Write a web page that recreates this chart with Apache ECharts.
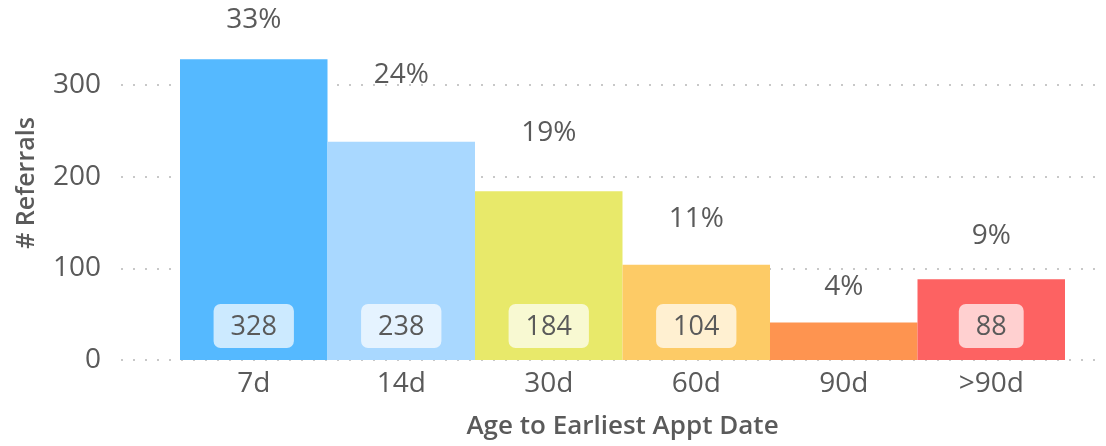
<!DOCTYPE html>
<html>
<head>
<meta charset="utf-8">
<script src="https://cdn.jsdelivr.net/npm/echarts@6/dist/echarts.min.js"></script>
<style>
html,body{margin:0;padding:0;background:#fff;}
#chart{width:1106px;height:446px;}
</style>
</head>
<body>
<div id="chart"></div>
<script>
// ---- data ----
const categories = ['7d', '14d', '30d', '60d', '90d', '>90d'];
const referrals = [328, 238, 184, 104, 41, 88];
const barColors = ['#55B9FF', '#A9D8FF', '#E8E96A', '#FDCB66', '#FE9450', '#FD6262'];
const yTicks = [0, 100, 200, 300];

const total = referrals.reduce((a, b) => a + b, 0);
const shares = referrals.map(v => v / total * 100);

const textColor = '#5A5A5A';
const font = '"Open Sans", "Noto Sans", sans-serif';

const chart = echarts.init(document.getElementById('chart'));

const barData = referrals.map((v, i) => ({
  value: v,
  itemStyle: { color: barColors[i] },
  label: { show: v >= 60 }
}));

chart.setOption({
  animation: false,
  backgroundColor: '#ffffff',
  grid: [
    { left: 121, right: 6, top: 85, bottom: 86 },
    { left: 180, right: 41, top: 85, bottom: 86 }
  ],
  xAxis: [
    { gridIndex: 0, type: 'value', show: false, min: 0, max: 1 },
    {
      gridIndex: 1, type: 'category', data: categories,
      axisLine: { show: false }, axisTick: { show: false },
      axisLabel: { color: textColor, fontSize: 28, fontFamily: font, margin: 10 },
      name: 'Age to Earliest Appt Date', nameLocation: 'middle', nameGap: 54,
      nameTextStyle: { color: textColor, fontSize: 26, fontFamily: font, fontWeight: 600 }
    }
  ],
  yAxis: [
    {
      gridIndex: 0, type: 'value', min: yTicks[0], max: yTicks[yTicks.length - 1], interval: 100,
      axisLine: { show: false }, axisTick: { show: false },
      axisLabel: { color: textColor, fontSize: 28, fontFamily: font, margin: 20 },
      splitLine: { show: true, lineStyle: { color: '#C8C8C8', width: 2, type: [2, 10] } }
    },
    { gridIndex: 1, type: 'value', min: 0, max: 300, show: false },
    { gridIndex: 1, type: 'value', min: -2.73, max: 23.26, show: false }
  ],
  graphic: [{
    type: 'text', x: 27, y: 183,
    rotation: Math.PI / 2,
    style: {
      text: '# Referrals', fill: textColor,
      font: '600 25px "Open Sans", sans-serif',
      textAlign: 'center', textVerticalAlign: 'middle'
    }
  }],
  series: [
    {
      type: 'bar', xAxisIndex: 1, yAxisIndex: 1,
      data: barData, barCategoryGap: 0, clip: false, z: 3,
      label: {
        position: 'insideBottom', distance: 12,
        formatter: p => String(p.value),
        color: textColor, fontSize: 27, fontFamily: font,
        backgroundColor: 'rgba(255,255,255,0.7)', borderRadius: 7,
        padding: [10, 17, 7, 17]
      }
    },
    {
      type: 'scatter', xAxisIndex: 1, yAxisIndex: 2,
      data: shares, symbolSize: 0, z: 4, clip: false,
      itemStyle: { opacity: 1 },
      label: {
        show: true, position: 'inside',
        formatter: p => Math.round(p.value) + '%',
        color: textColor, fontSize: 28, fontFamily: font
      },
      labelLayout: function (params) {
        const r = params.labelRect;
        const c = r.y + r.height / 2;
        if (c < 20) return { dy: 20 - c };
        return {};
      }
    }
  ]
});
</script>
</body>
</html>
